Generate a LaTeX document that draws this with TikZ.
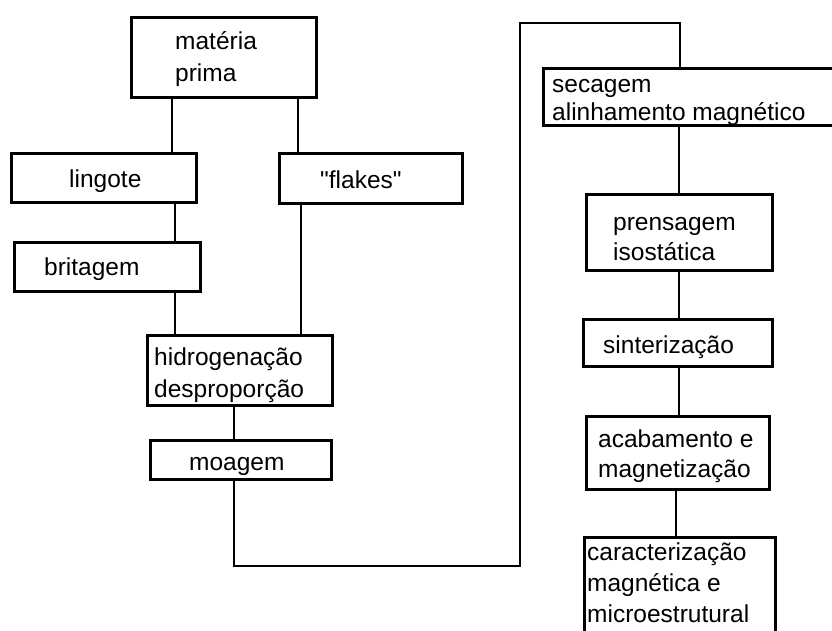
\documentclass[tikz,border=0pt]{standalone}
\usepackage{fontspec}
\setmainfont{Liberation Sans}[Ligatures=TeXOff]
\begin{document}
\begin{tikzpicture}[x=1pt,y=-1pt,
  box/.style={draw, line width=2.8pt, inner sep=0pt},
  txt/.style={inner sep=0pt, anchor=base west, align=left, font=\fontsize{24.5}{32}\selectfont},
  link/.style={line width=2pt}]
\useasboundingbox (0,0) rectangle (832,630);
% boxes
\node[box, minimum width=185pt, minimum height=80pt] (mp) at (224,57.5) {};
\node[box, minimum width=185pt, minimum height=49pt] (lin) at (104,178) {};
\node[box, minimum width=183pt, minimum height=50pt] (fla) at (371,178.5) {};
\node[box, minimum width=186pt, minimum height=49pt] (bri) at (107.5,267) {};
\node[box, minimum width=185pt, minimum height=70pt] (hid) at (240,370.5) {};
\node[box, minimum width=181pt, minimum height=39pt] (moa) at (241,460) {};
\node[box, minimum width=305pt, minimum height=57pt] (sec) at (696,97) {};
\node[box, minimum width=186pt, minimum height=76pt] (pre) at (679.5,232.5) {};
\node[box, minimum width=189pt, minimum height=47pt] (sin) at (678,343) {};
\node[box, minimum width=183pt, minimum height=73pt] (aca) at (678,453) {};
\node[box, minimum width=191pt, minimum height=121pt] (car) at (680,598) {};
% texts (anchor = baseline of the last line)
\node[txt] (tmp) at (175,81) {matéria\\prima};
\node[txt] (tlin) at (69,187) {lingote};
\node[txt] (tfla) at (320,188) {"flakes"};
\node[txt] (tbri) at (44,275) {britagem};
\node[txt] (thid) at (154,397) {hidrogenação\\desproporção};
\node[txt] (tmoa) at (189,470) {moagem};
\node[txt, font=\fontsize{24.5}{28}\selectfont] (tsec) at (552,120) {secagem\\alinhamento magnético};
\node[txt, font=\fontsize{24.5}{30}\selectfont] (tpre) at (613,260) {prensagem\\isostática};
\node[txt] (tsin) at (603,353) {sinterização};
\node[txt, font=\fontsize{24.5}{30}\selectfont] (taca) at (598,477) {acabamento e\\magnetização};
\node[txt, font=\fontsize{24.5}{31}\selectfont] (tcar) at (587,622) {caracterização\\magnética e\\microestrutural};
% connector coordinates
\coordinate (xa) at (172,0);
\coordinate (xb) at (298,0);
\coordinate (xc) at (175,0);
\coordinate (xd) at (301,0);
\coordinate (xe) at (234,566);
\coordinate (xf) at (520,566);
\coordinate (xg) at (520,23);
\coordinate (xh) at (680,23);
\coordinate (xi) at (679,0);
\coordinate (xj) at (676,0);
% connectors
\draw[link] (mp.south -| xa) -- (lin.north -| xa);
\draw[link] (mp.south -| xb) -- (fla.north -| xb);
\draw[link] (lin.south -| xc) -- (bri.north -| xc);
\draw[link] (bri.south -| xc) -- (hid.north -| xc);
\draw[link] (fla.south -| xd) -- (hid.north -| xd);
\draw[link] (hid.south -| xe) -- (moa.north -| xe);
\draw[link] (moa.south -| xe) -- (xe) -- (xf) -- (xg) -- (xh) -- (sec.north -| xh);
\draw[link] (sec.south -| xi) -- (pre.north -| xi);
\draw[link] (pre.south -| xi) -- (sin.north -| xi);
\draw[link] (sin.south -| xi) -- (aca.north -| xi);
\draw[link] (aca.south -| xj) -- (car.north -| xj);
\end{tikzpicture}
\end{document}
